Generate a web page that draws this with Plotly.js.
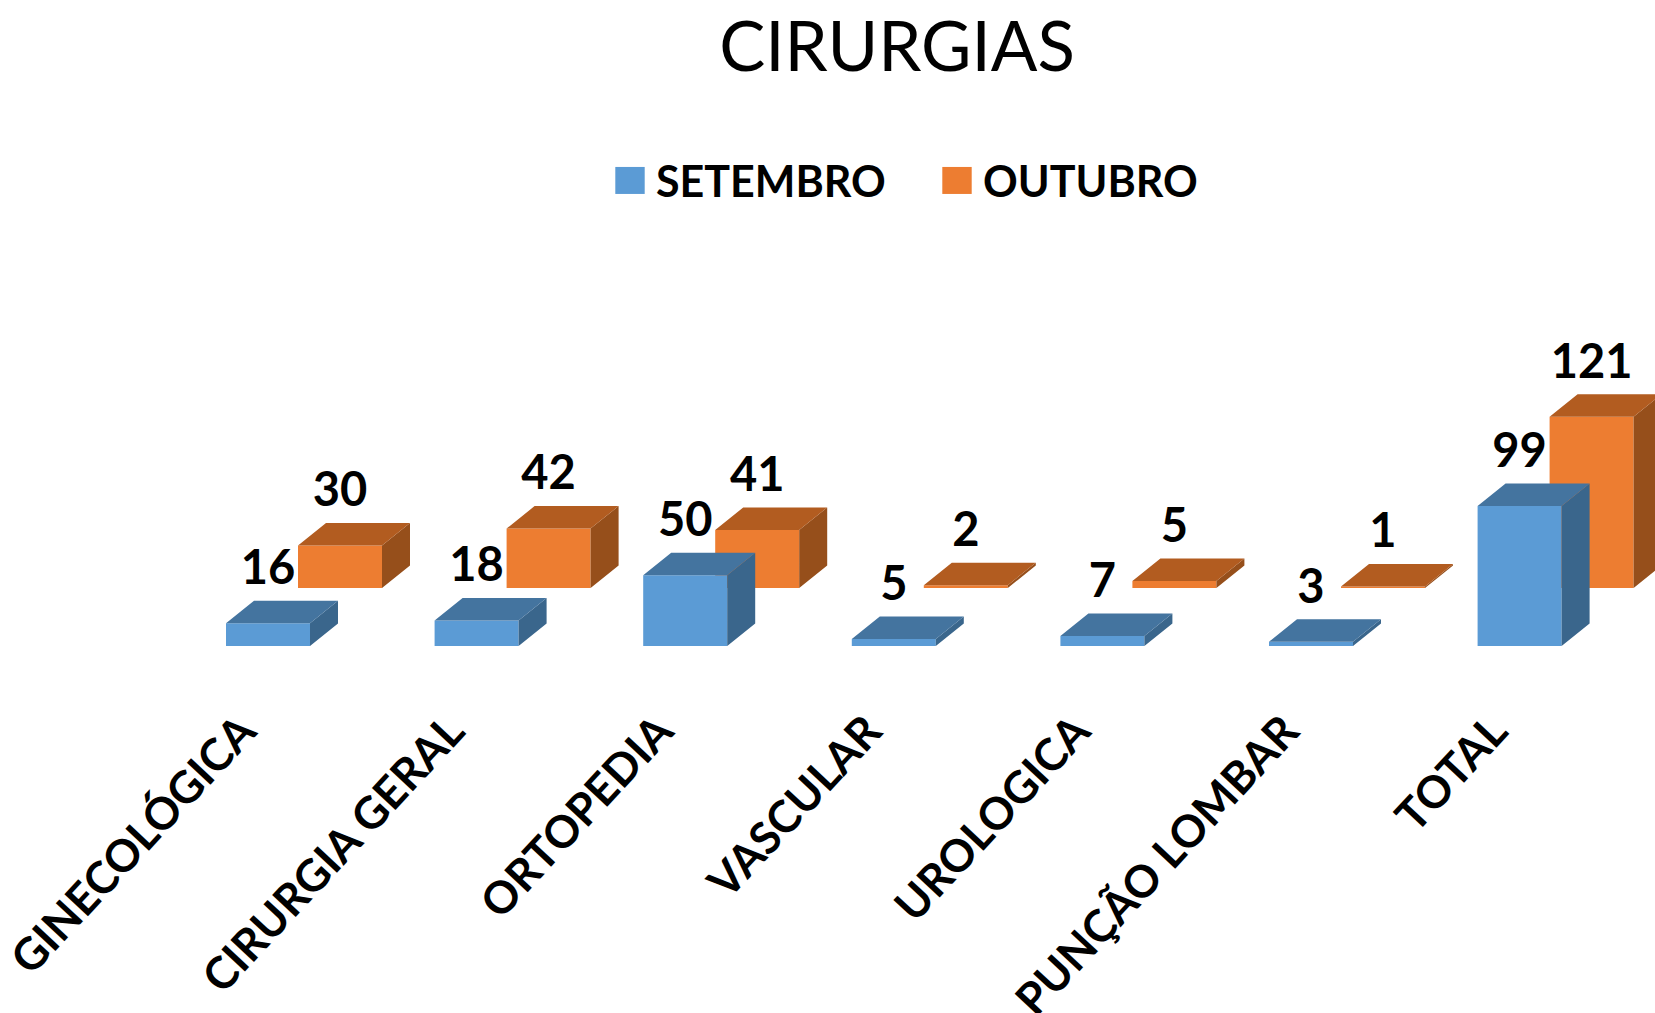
<!DOCTYPE html>
<html><head><meta charset="utf-8">
<script src="https://cdn.plot.ly/plotly-3.0.1.min.js"></script>
<style>html,body{margin:0;padding:0;background:#fff}#chart{width:1655px;height:1013px}</style>
</head><body><div id="chart"></div>
<script>
const categories = ['GINECOLÓGICA','CIRURGIA GERAL','ORTOPEDIA','VASCULAR','UROLOGICA','PUNÇÃO LOMBAR','TOTAL'];
const setembro = [16,18,50,5,7,3,99];
const outubro = [30,42,41,2,5,1,121];

const W=1655,H=1013,baseY=646,x0=268;
const pxX=208.6,pxY=1.415;           // px per category / per unit
const barW=84/pxX, depthX=28/pxX, depthY=22.5/pxY;
const rowDX=72/pxX, rowDY=58/pxY;    // depth offset of the back row
const labelGap=51/pxY, tickShift=26/pxX, FONT='Lato, sans-serif';
const idx=categories.map((_,i)=>i);

function faces(vals,dx,base,topColor,sideColor){
  const tx=[],ty=[],sx=[],sy=[];
  vals.forEach((v,i)=>{
    const L=i+dx-barW/2,R=i+dx+barW/2,T=base+v;
    tx.push(L,R,R+depthX,L+depthX,L,null); ty.push(T,T,T+depthY,T+depthY,T,null);
    sx.push(R,R+depthX,R+depthX,R,R,null); sy.push(base,base+depthY,T+depthY,T,base,null);
  });
  const mk=(x,y,c)=>({type:'scatter',mode:'lines',x,y,fill:'toself',fillcolor:c,line:{width:0,color:c},showlegend:false,hoverinfo:'skip'});
  return [mk(sx,sy,sideColor),mk(tx,ty,topColor)];
}
const bar=(name,vals,dx,base,c)=>({type:'bar',name,x:idx.map(i=>i+dx),y:vals,base:vals.map(()=>base),width:barW,marker:{color:c,line:{width:0}}});
const lab=(vals,dx,base)=>({type:'scatter',mode:'text',x:idx.map(i=>i+dx),y:vals.map(v=>base+v+labelGap),text:vals.map(String),textposition:'middle center',textfont:{family:FONT,size:47,color:'#000',weight:700},showlegend:false,hoverinfo:'skip'});

// back row first so the front row covers it
const traces=[
  bar('OUTUBRO',outubro,rowDX,rowDY,'#ED7D31'),
  bar('SETEMBRO',setembro,0,0,'#5B9BD5'),
  ...faces(outubro,rowDX,rowDY,'#B25C20','#964F1B'),
  ...faces(setembro,0,0,'#44749F','#3A668C'),
  lab(setembro,0,0),lab(outubro,rowDX,rowDY)
];
const layout={
  width:W,height:H,margin:{l:0,r:0,t:0,b:H-baseY,pad:0},
  paper_bgcolor:'#fff',plot_bgcolor:'rgba(0,0,0,0)',
  barmode:'overlay',
  title:{text:'CIRURGIAS',x:897/W,xanchor:'center',xref:'paper',y:1-47/H,yref:'container',yanchor:'middle',font:{family:FONT,size:69,color:'#000'}},
  xaxis:{type:'linear',range:[-x0/pxX,(W-x0)/pxX],tickmode:'array',tickvals:idx.map(i=>i-tickShift),ticktext:categories,tickangle:-47,ticks:'',ticklabelstandoff:49,ticklabeloverflow:'allow',showgrid:false,zeroline:false,showline:false,tickfont:{family:FONT,size:44.5,color:'#000',weight:700}},
  yaxis:{range:[0,baseY/pxY],visible:false,fixedrange:true},
  legend:{orientation:'h',x:604/W,xanchor:'left',y:1-146/baseY,yanchor:'top',traceorder:'reversed',itemwidth:42,entrywidth:270,entrywidthmode:'pixels',font:{family:FONT,size:43,color:'#000',weight:700},bgcolor:'rgba(0,0,0,0)',itemclick:false,itemdoubleclick:false},
  showlegend:true
};
Plotly.newPlot('chart',traces,layout,{displayModeBar:false,staticPlot:true}).then(gd=>{
  gd.querySelectorAll('.legend .legendpoints path').forEach(p=>{
    p.setAttribute('transform',(p.getAttribute('transform')||'')+' scale(2.45,2.25)');
  });
});
</script></body></html>
